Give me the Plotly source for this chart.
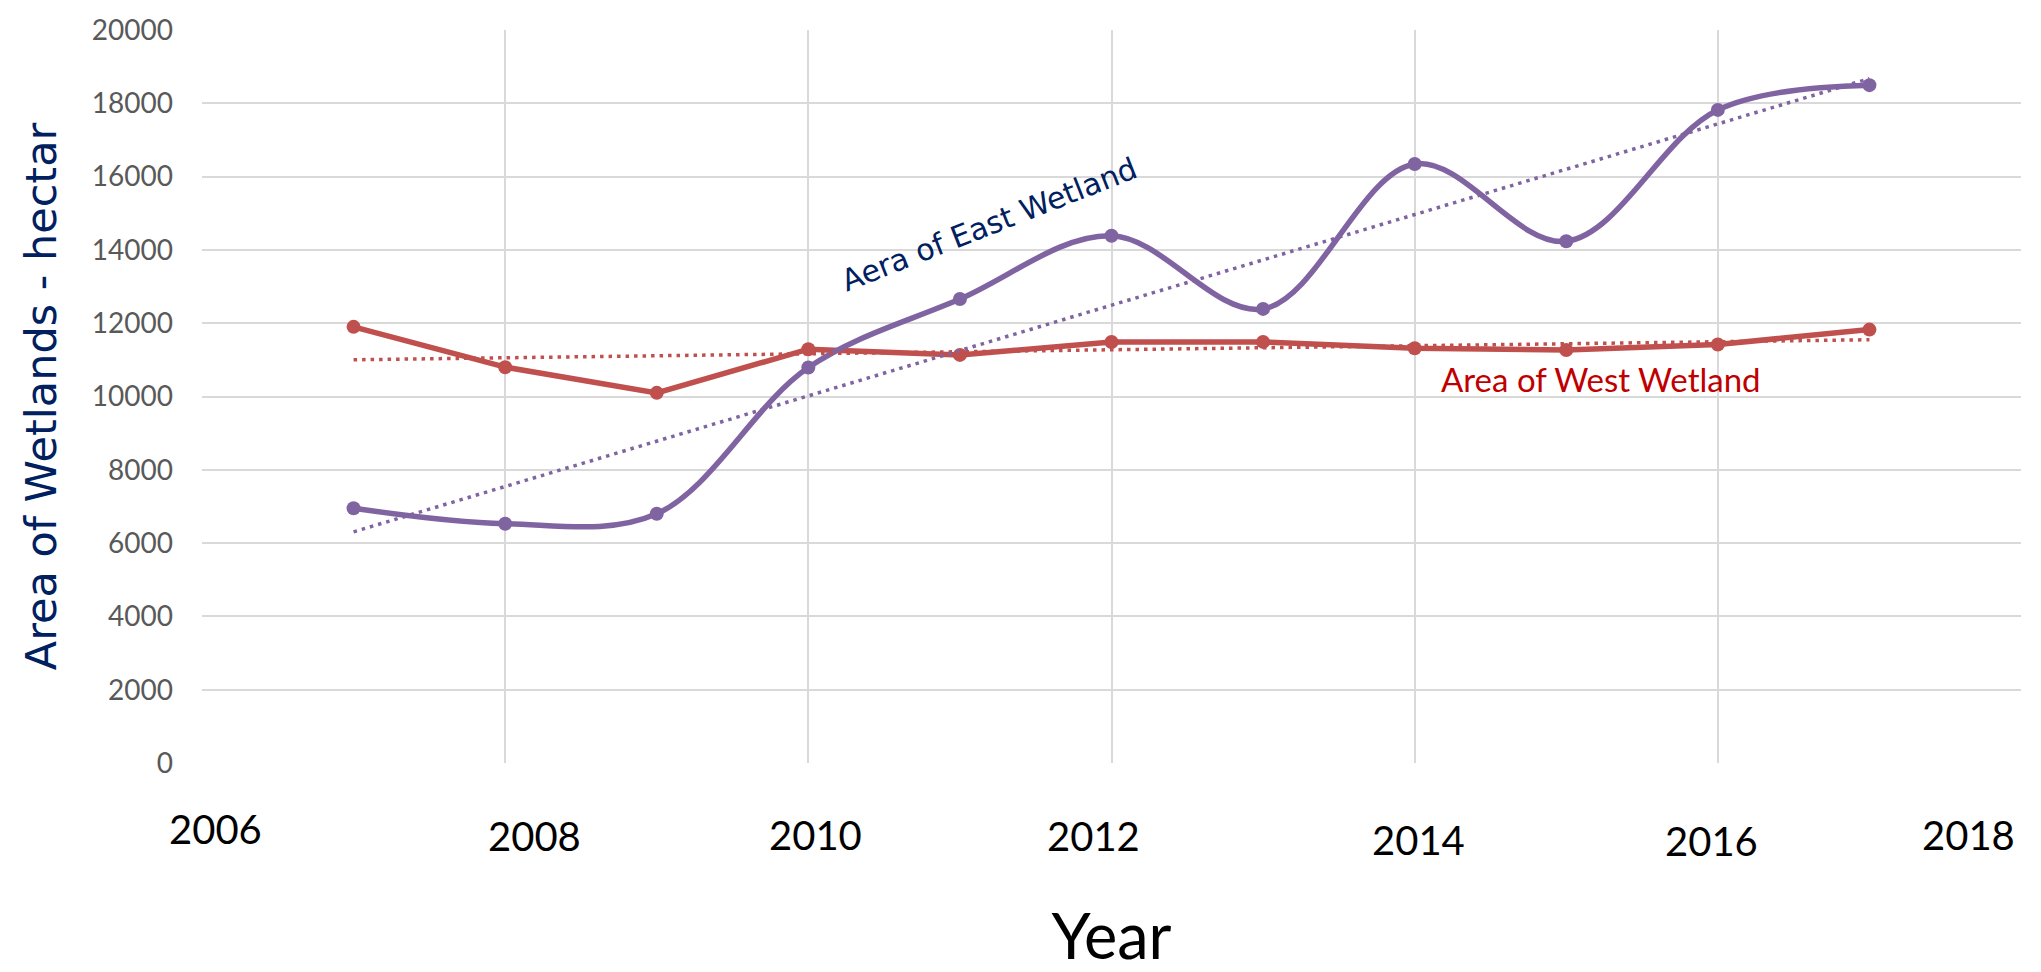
import numpy as np
import plotly.graph_objects as go

# Wetland area by year (hectares)
years = [2007, 2008, 2009, 2010, 2011, 2012, 2013, 2014, 2015, 2016, 2017]
east_area = [6950, 6530, 6800, 10790, 12660, 14385, 12390, 16345, 14235, 17820, 18495]
west_area = [11900, 10800, 10100, 11290, 11135, 11485, 11490, 11315, 11270, 11420, 11825]

# Axis ticks
year_ticks = [2006, 2008, 2010, 2012, 2014, 2016, 2018]
year_labels = ["2006", "2008", "2010", "2012", "2014", "2016", "2018"]
area_ticks = [0, 2000, 4000, 6000, 8000, 10000, 12000, 14000, 16000, 18000, 20000]
area_labels = [str(v) for v in area_ticks]

# Hand-placed year labels: horizontal nudge and drop below the plot (px)
label_dx = [13, 29, 7, -18, 4, -6, -53]
label_dy = [66, 73, 72, 73, 77, 78, 72]

PURPLE = "#8064A2"
RED = "#C0504D"
NAVY = "#002060"
GRID = "#D9D9D9"


def linear_trend(x, y):
    slope, intercept = np.polyfit(x, y, 1)
    xs = [x[0], x[-1]]
    return xs, [slope * v + intercept for v in xs]


fig = go.Figure()

fig.add_trace(go.Scatter(
    x=years, y=west_area, mode="lines+markers", name="Area of West Wetland",
    line=dict(color=RED, width=5.5),
    marker=dict(color=RED, size=14),
))
fig.add_trace(go.Scatter(
    x=years, y=east_area, mode="lines+markers", name="Aera of East Wetland",
    line=dict(color=PURPLE, width=5.5, shape="spline", smoothing=1),
    marker=dict(color=PURPLE, size=14),
))

wx, wy = linear_trend(years, west_area)
fig.add_trace(go.Scatter(
    x=wx, y=wy, mode="lines", name="West trend",
    line=dict(color=RED, width=3.5, dash="3.5px,5px"),
))
ex, ey = linear_trend(years, east_area)
fig.add_trace(go.Scatter(
    x=ex, y=ey, mode="lines", name="East trend",
    line=dict(color=PURPLE, width=3.5, dash="3.5px,5px"),
))

annotations = []
for yr, txt, dx, dy in zip(year_ticks, year_labels, label_dx, label_dy):
    annotations.append(dict(
        x=yr, y=0, xref="x", yref="paper", text=txt, showarrow=False,
        xanchor="center", yanchor="middle", xshift=dx, yshift=-dy,
        font=dict(family="Lato, Carlito, sans-serif", size=40, color="#000000"),
    ))

annotations.append(dict(
    x=2011.19, y=14700, xref="x", yref="y", text="Aera of East Wetland",
    showarrow=False, textangle=-21.5, xanchor="center", yanchor="middle",
    font=dict(family="DejaVu Sans, Verdana, sans-serif", size=30, color=NAVY),
))
annotations.append(dict(
    x=2015.23, y=10480, xref="x", yref="y", text="Area of West Wetland",
    showarrow=False, xanchor="center", yanchor="middle",
    font=dict(family="Lato, Carlito, sans-serif", size=33, color="#C00000"),
))

fig.update_layout(
    width=2041, height=972,
    margin=dict(l=202, r=20, t=23, b=207),
    paper_bgcolor="white", plot_bgcolor="white",
    showlegend=False,
    annotations=annotations,
    xaxis=dict(
        range=[2006, 2018], tickvals=year_ticks, showticklabels=False,
        showgrid=True, gridcolor=GRID, gridwidth=2, zeroline=False,
        showline=False, ticks="",
        title=dict(text="Year", standoff=153,
                   font=dict(family="Lato, Carlito, sans-serif", size=63, color="#000000")),
    ),
    yaxis=dict(
        range=[0, 20000], tickvals=area_ticks, ticktext=area_labels,
        showgrid=True, gridcolor=GRID, gridwidth=2, zeroline=False,
        showline=False, ticks="", ticklabelstandoff=28,
        tickfont=dict(family="Lato, Carlito, sans-serif", size=28, color="#595959"),
        title=dict(text="Area of Wetlands - hectar", standoff=21,
                   font=dict(family="DejaVu Sans, Verdana, sans-serif", size=43, color=NAVY)),
    ),
)

fig.write_html("out.html")
